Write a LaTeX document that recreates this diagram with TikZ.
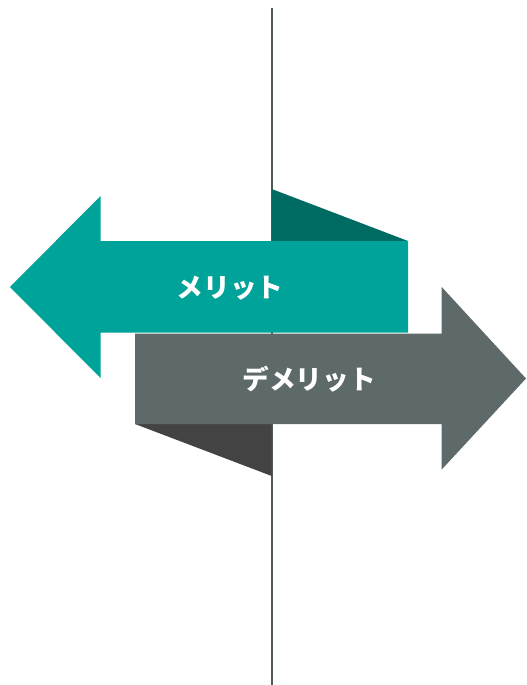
\documentclass[tikz,border=0pt]{standalone}
\usepackage{fontspec}
\newfontfamily\jpfont{Noto Sans CJK JP}
\definecolor{teal1}{HTML}{00A39A}
\definecolor{teal2}{HTML}{006B63}
\definecolor{gray1}{HTML}{5E6969}
\definecolor{gray2}{HTML}{434343}
\definecolor{linec}{HTML}{4F5B5B}
\tikzset{
  lbl/.style={text=white, font=\jpfont\bfseries\fontsize{20}{24}\selectfont, inner sep=0pt},
}
\begin{document}
\begin{tikzpicture}[x=0.75pt,y=-0.75pt]
\useasboundingbox (0,0) rectangle (526,685);
% vertical line
\draw[linec, line width=1.2pt] (271.7,8) -- (271.7,685);
% upper dark triangle
\fill[teal2] (271.7,189) -- (408,241) -- (271.7,241) -- cycle;
% lower dark triangle
\fill[gray2] (135,424) -- (271.7,424) -- (271.7,476) -- cycle;
% teal arrow (left)
\fill[teal1] (408,241) -- (100.5,241) -- (100.5,196) -- (10,287) -- (100.5,378) -- (100.5,332.5) -- (408,332.5) -- cycle;
% gray arrow (right)
\fill[gray1] (135,333.5) -- (441.7,333.5) -- (441.7,287) -- (526,378.5) -- (441.7,469.5) -- (441.7,424) -- (135,424) -- cycle;
\node[lbl] (merit) at (230,288) {メリット};
\node[lbl] (demerit) at (309,379) {デメリット};
\end{tikzpicture}
\end{document}
